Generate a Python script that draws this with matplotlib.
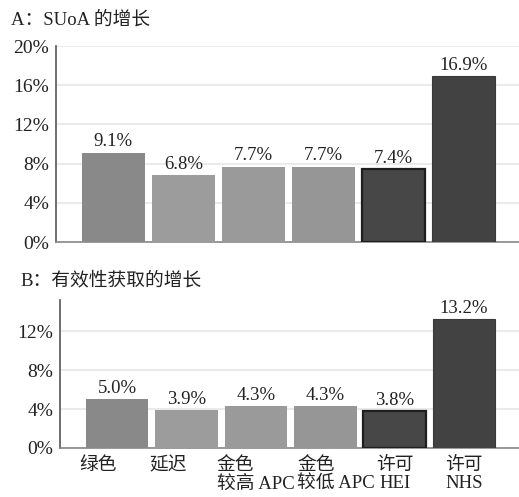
import matplotlib
matplotlib.use("Agg")
import matplotlib.pyplot as plt
import matplotlib.transforms as mtransforms
import numpy as np

plt.rcParams['font.family'] = ['Liberation Serif', 'Noto Sans CJK SC']

# data
categories = ["绿色", "延迟", "金色\n较高 APC", "金色\n较低 APC", "许可\nHEI", "许可\nNHS"]
suoa_growth = [9.1, 6.8, 7.7, 7.7, 7.4, 16.9]
access_growth = [5.0, 3.9, 4.3, 4.3, 3.8, 13.2]
top_ticks = [0, 4, 8, 12, 16, 20]
bottom_ticks = [0, 4, 8, 12]

bar_colors = ["#898989", "#9c9c9c", "#9a9a9a", "#969696", "#474747", "#424242"]
edge_colors = ["#898989", "#9c9c9c", "#9a9a9a", "#969696", "#1e1e1e", "#3a3a3a"]
edge_widths = [0, 0, 0, 0, 1.6, 0.8]

# x-label placement tweaks (pixels) to follow the original's hand placement
label_shift = [-19, -18, 0, 11, 0, 0]
label_align = ['center', 'center', 'left', 'left', 'center', 'center']

fig = plt.figure(figsize=(5.19, 4.97), dpi=100)
ax_top = fig.add_axes([56 / 519, 1 - 242 / 497, 1 - 56 / 519, (242 - 46) / 497])
ax_bot = fig.add_axes([60 / 519, 1 - 448 / 497, 1 - 60 / 519, (448 - 300) / 497])

x = np.arange(len(categories))


def draw_panel(ax, values, ticks, ytop):
    bars = ax.bar(x, values, width=0.9, color=bar_colors,
                  edgecolor=edge_colors, linewidth=edge_widths, zorder=3)
    for b, v in zip(bars, values):
        ax.text(b.get_x() + b.get_width() / 2, v + ytop * 0.014, f"{v:.1f}%",
                ha='center', va='bottom', fontsize=13.5, color="#222222")
    ax.set_xlim(-0.82, 5.79)
    ax.set_ylim(0, ytop)
    ax.set_yticks(ticks)
    ax.set_yticklabels([f"{t}%" for t in ticks])
    ax.yaxis.grid(True, color="#e6e6e6", linewidth=1.2, zorder=0)
    ax.tick_params(axis='y', length=0, labelsize=14, pad=5, colors="#222222")
    for s in ['top', 'right']:
        ax.spines[s].set_visible(False)
    ax.spines['left'].set_color("#555555")
    ax.spines['left'].set_linewidth(1.2)
    ax.spines['bottom'].set_color("#888888")
    ax.spines['bottom'].set_linewidth(1.2)
    ax.set_xticks([])


draw_panel(ax_top, suoa_growth, top_ticks, 20)
draw_panel(ax_bot, access_growth, bottom_ticks, 15.2)

# category labels under panel B
for xi, cat, dx, ma in zip(x, categories, label_shift, label_align):
    off = mtransforms.ScaledTranslation(dx / 100, -9 / 100, fig.dpi_scale_trans)
    ax_bot.text(xi, 0, cat, transform=ax_bot.get_xaxis_transform() + off,
                ha='center', va='top', ma=ma, fontsize=13.5, linespacing=1.1,
                color="#222222")

fig.text(11 / 519, 1 - 20 / 497, "A：SUoA 的增长", fontsize=13.5, va='center', ha='left', color="#222222")
fig.text(20 / 519, 1 - 280 / 497, "B：有效性获取的增长", fontsize=13.5, va='center', ha='left', color="#222222")

fig.savefig("out.png", dpi=100)
